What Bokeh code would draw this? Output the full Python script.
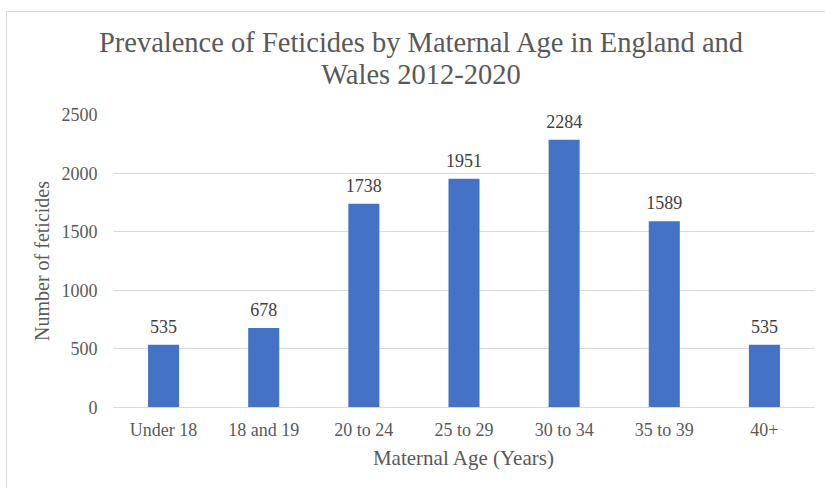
from bokeh.plotting import figure
from bokeh.layouts import column
from bokeh.models import (ColumnDataSource, FactorRange, Range1d, FixedTicker,
                          LabelSet, Div, InlineStyleSheet)
from bokeh.embed import file_html
from bokeh.resources import INLINE

# Feticides by maternal age group, England and Wales 2012-2020
age_groups = ["Under 18", "18 and 19", "20 to 24", "25 to 29", "30 to 34", "35 to 39", "40+"]
feticides = [535, 678, 1738, 1951, 2284, 1589, 535]
y_ticks = [0, 500, 1000, 1500, 2000, 2500]

title_lines = ["Prevalence of Feticides by Maternal Age in England and", "Wales 2012-2020"]

FONT = "Liberation Serif"
BAR = "#4472C4"
GRID = "#d9d9d9"
TEXT = "#595959"

W, H = 825, 488
HEADER_H = 100                      # height of the title block above the figure
LEFT, RIGHT, TOP, BOTTOM = 113, 11, 14, 81
Y_MAX = 2500

source = ColumnDataSource(dict(
    age=age_groups,
    n=feticides,
    lbl=[str(v) for v in feticides],
))

# two-line title as an HTML block, centred on x = 421 px
header = Div(
    text=(
        '<div style="position:absolute; left:0; top:27px; width:842px; '
        f'text-align:center; font-family:\'{FONT}\'; font-size:28.5px; '
        f'line-height:32px; color:{TEXT}; white-space:nowrap;">'
        + "<br>".join(title_lines) + "</div>"
    ),
    width=W, height=HEADER_H, margin=0,
)

p = figure(
    width=W, height=H - HEADER_H,
    x_range=FactorRange(*age_groups, range_padding=0),
    y_range=Range1d(0, Y_MAX),
    output_backend="svg", toolbar_location=None, title=None,
    min_border_left=LEFT, min_border_right=RIGHT,
    min_border_top=TOP, min_border_bottom=BOTTOM,
    margin=0,
)
p.background_fill_color = "white"
p.border_fill_color = "white"
p.outline_line_color = None

p.vbar(x="age", top="n", width=0.31, source=source, color=BAR, line_color=None)

# value labels above each bar
p.add_layout(LabelSet(
    x="age", y="n", text="lbl", source=source, y_offset=12,
    text_align="center", text_baseline="alphabetic",
    text_font=FONT, text_font_size="18px", text_color="#404040",
))

# axes
p.xgrid.grid_line_color = None
p.ygrid.grid_line_color = GRID
p.ygrid.grid_line_width = 1

p.yaxis.ticker = FixedTicker(ticks=y_ticks)
p.yaxis.axis_line_color = None
p.yaxis.major_tick_line_color = None
p.yaxis.minor_tick_line_color = None
p.yaxis.major_label_standoff = 10
p.yaxis.major_label_text_font = FONT
p.yaxis.major_label_text_font_size = "18px"
p.yaxis.major_label_text_color = TEXT
p.yaxis.axis_label = "Number of feticides"
p.yaxis.axis_label_text_font = FONT
p.yaxis.axis_label_text_font_size = "20px"
p.yaxis.axis_label_text_font_style = "normal"
p.yaxis.axis_label_text_color = TEXT
p.yaxis.axis_label_standoff = 6

p.xaxis.axis_line_color = GRID
p.xaxis.major_tick_line_color = None
p.xaxis.minor_tick_line_color = None
p.xaxis.major_label_standoff = 6
p.xaxis.major_label_text_font = FONT
p.xaxis.major_label_text_font_size = "18px"
p.xaxis.major_label_text_color = TEXT
p.xaxis.axis_label = "Maternal Age (Years)"
p.xaxis.axis_label_text_font = FONT
p.xaxis.axis_label_text_font_size = "21px"
p.xaxis.axis_label_text_font_style = "normal"
p.xaxis.axis_label_text_color = TEXT
p.xaxis.axis_label_standoff = 3

# faint chart-area border drawn around the whole block
border_css = InlineStyleSheet(css="""
:host::after {
  content: "";
  position: absolute;
  left: 6px; top: 11px; right: -20px; bottom: -20px;
  border: 1px solid #d9d9d9;
  pointer-events: none;
}
""")

page = column(header, p, spacing=0, margin=0, stylesheets=[border_css])

open("out.html", "w").write(file_html(page, INLINE))
